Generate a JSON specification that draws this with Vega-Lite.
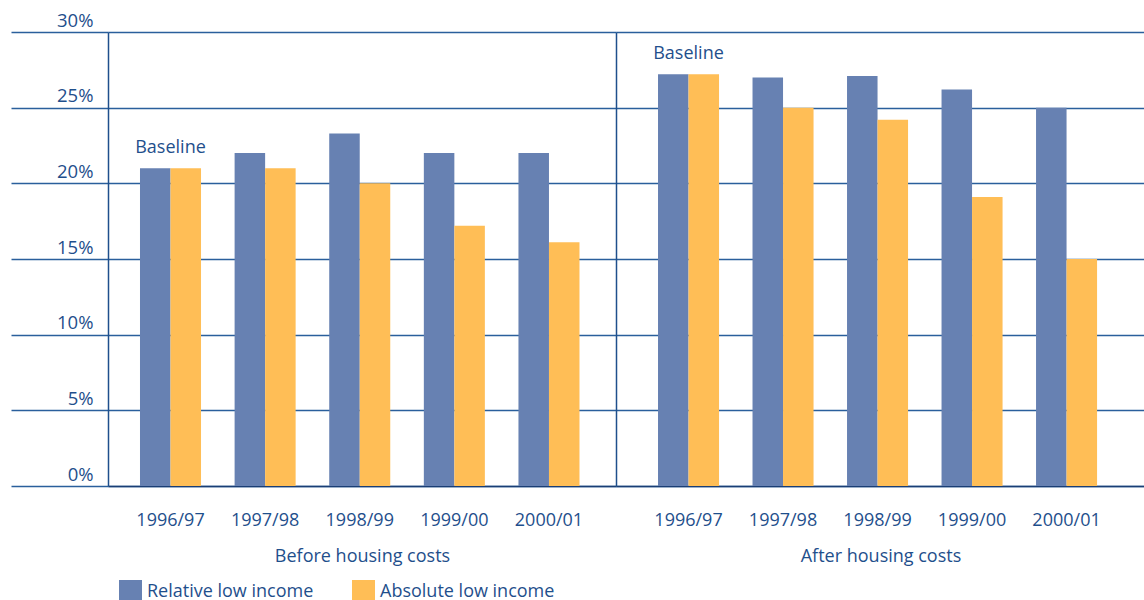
{
  "$schema": "https://vega.github.io/schema/vega-lite/v6.json",
  "background": "white",
  "padding": {"left": 10, "top": 11, "right": 0, "bottom": 0},
  "spacing": 0,
  "config": {
    "font": "Open Sans",
    "view": {"stroke": null},
    "axis": {
      "labelFont": "Open Sans",
      "titleFont": "Open Sans",
      "labelColor": "#1f4f8c",
      "titleColor": "#1f4f8c",
      "labelFontSize": 18,
      "titleFontSize": 18,
      "titleFontWeight": "normal",
      "gridColor": "#2a5f9c",
      "gridWidth": 1.5,
      "gridOpacity": 1,
      "domainColor": "#1f4f8c",
      "domainWidth": 1.5,
      "tickColor": "#2a5f9c",
      "tickWidth": 1.5
    },
    "legend": {
      "labelFont": "Open Sans",
      "labelFontSize": 18,
      "labelColor": "#1f4f8c",
      "labelLimit": 400
    }
  },
  "data": {
    "values": [
      {"panel": "Before", "year": "1996/97", "series": "Relative low income", "value": 21.0},
      {"panel": "Before", "year": "1996/97", "series": "Absolute low income", "value": 21.0},
      {"panel": "Before", "year": "1997/98", "series": "Relative low income", "value": 22.0},
      {"panel": "Before", "year": "1997/98", "series": "Absolute low income", "value": 21.0},
      {"panel": "Before", "year": "1998/99", "series": "Relative low income", "value": 23.3},
      {"panel": "Before", "year": "1998/99", "series": "Absolute low income", "value": 20.0},
      {"panel": "Before", "year": "1999/00", "series": "Relative low income", "value": 22.0},
      {"panel": "Before", "year": "1999/00", "series": "Absolute low income", "value": 17.2},
      {"panel": "Before", "year": "2000/01", "series": "Relative low income", "value": 22.0},
      {"panel": "Before", "year": "2000/01", "series": "Absolute low income", "value": 16.1},
      {"panel": "After", "year": "1996/97", "series": "Relative low income", "value": 27.2},
      {"panel": "After", "year": "1996/97", "series": "Absolute low income", "value": 27.2},
      {"panel": "After", "year": "1997/98", "series": "Relative low income", "value": 27.0},
      {"panel": "After", "year": "1997/98", "series": "Absolute low income", "value": 25.0},
      {"panel": "After", "year": "1998/99", "series": "Relative low income", "value": 27.1},
      {"panel": "After", "year": "1998/99", "series": "Absolute low income", "value": 24.2},
      {"panel": "After", "year": "1999/00", "series": "Relative low income", "value": 26.2},
      {"panel": "After", "year": "1999/00", "series": "Absolute low income", "value": 19.1},
      {"panel": "After", "year": "2000/01", "series": "Relative low income", "value": 25.0},
      {"panel": "After", "year": "2000/01", "series": "Absolute low income", "value": 15.0}
    ]
  },
  "hconcat": [
    {
      "width": 508,
      "height": 454,
      "transform": [{"filter": "datum.panel === 'Before'"}],
      "encoding": {
        "x": {
          "field": "year",
          "type": "nominal",
          "sort": null,
          "scale": {"paddingInner": 0.355, "paddingOuter": 0.362, "align": 0.467},
          "axis": {
            "title": "Before housing costs",
            "labelAngle": 0,
            "ticks": false,
            "domain": true,
            "domainColor": "#1a3e75",
            "labelPadding": 25,
            "titlePadding": 18
          }
        },
        "y": {
          "field": "value",
          "type": "quantitative",
          "scale": {"domain": [0, 30], "nice": false, "zero": true},
          "axis": {
            "title": null,
            "values": [0, 5, 10, 15, 20, 25, 30],
            "labelExpr": "datum.value + '%'",
            "labelFontSize": 18.5,
            "grid": true,
            "ticks": true,
            "tickSize": 97,
            "labelPadding": -82,
            "labelBaseline": "alphabetic",
            "labelOffset": -6,
            "labelFlush": false,
            "labelOverlap": false,
            "labelBound": false,
            "domain": true
          }
        }
      },
      "layer": [
        {
          "mark": {"type": "bar"},
          "encoding": {
            "xOffset": {
              "field": "series",
              "type": "nominal",
              "sort": ["Relative low income", "Absolute low income"],
              "scale": {"paddingInner": 0, "paddingOuter": 0}
            },
            "color": {
              "field": "series",
              "type": "nominal",
              "sort": ["Relative low income", "Absolute low income"],
              "scale": {
                "domain": ["Relative low income", "Absolute low income"],
                "range": ["#6781b2", "#ffbe56"]
              },
              "legend": {
                "title": null,
                "orient": "none",
                "direction": "horizontal",
                "legendX": 11,
                "legendY": 548,
                "symbolType": "square",
                "symbolSize": 529,
                "symbolStrokeWidth": 0,
                "symbolOpacity": 1,
                "labelOffset": 5,
                "columnPadding": 38
              }
            }
          }
        },
        {
          "transform": [{"filter": "datum.year === '1996/97' && datum.series === 'Relative low income'"}],
          "mark": {
            "type": "text",
            "text": "Baseline",
            "font": "Open Sans",
            "fontSize": 18,
            "color": "#1f4f8c",
            "align": "center",
            "baseline": "alphabetic",
            "dy": -15
          }
        }
      ]
    },
    {
      "width": 529,
      "height": 454,
      "transform": [{"filter": "datum.panel === 'After'"}],
      "encoding": {
        "x": {
          "field": "year",
          "type": "nominal",
          "sort": null,
          "scale": {"paddingInner": 0.3545, "paddingOuter": 0.476, "align": 0.467},
          "axis": {
            "title": "After housing costs",
            "labelAngle": 0,
            "ticks": false,
            "domain": true,
            "domainColor": "#1a3e75",
            "labelPadding": 25,
            "titlePadding": 18
          }
        },
        "y": {
          "field": "value",
          "type": "quantitative",
          "scale": {"domain": [0, 30], "nice": false, "zero": true},
          "axis": {
            "title": null,
            "values": [0, 5, 10, 15, 20, 25, 30],
            "labels": false,
            "ticks": false,
            "grid": true,
            "domain": true
          }
        }
      },
      "layer": [
        {
          "mark": {"type": "bar"},
          "encoding": {
            "xOffset": {
              "field": "series",
              "type": "nominal",
              "sort": ["Relative low income", "Absolute low income"],
              "scale": {"paddingInner": 0, "paddingOuter": 0}
            },
            "color": {
              "field": "series",
              "type": "nominal",
              "sort": ["Relative low income", "Absolute low income"],
              "scale": {
                "domain": ["Relative low income", "Absolute low income"],
                "range": ["#6781b2", "#ffbe56"]
              }
            }
          }
        },
        {
          "transform": [{"filter": "datum.year === '1996/97' && datum.series === 'Relative low income'"}],
          "mark": {
            "type": "text",
            "text": "Baseline",
            "font": "Open Sans",
            "fontSize": 18,
            "color": "#1f4f8c",
            "align": "center",
            "baseline": "alphabetic",
            "dy": -15
          }
        }
      ]
    }
  ]
}
